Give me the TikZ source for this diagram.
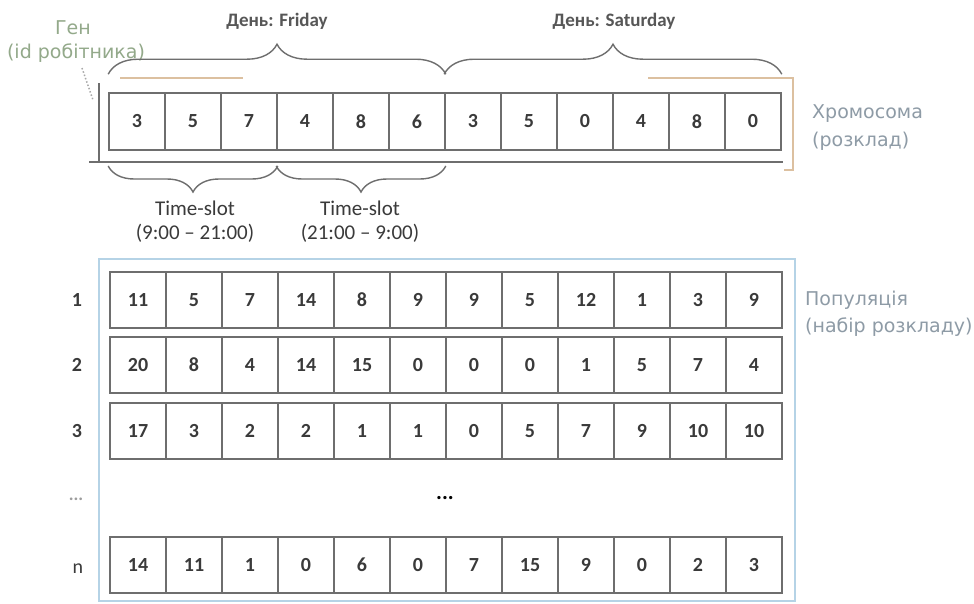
\documentclass[tikz,border=0pt]{standalone}
\usepackage{fontspec}
\setmainfont{Carlito}
\newfontfamily\labfont{DejaVu Sans}
\usetikzlibrary{decorations.pathreplacing,calc}
\definecolor{cellgray}{HTML}{6E6E6E}
\definecolor{numgray}{HTML}{3A3A3A}
\definecolor{boxblue}{HTML}{B5D3E6}
\definecolor{labelblue}{HTML}{8E9BA6}
\definecolor{gengreen}{HTML}{93A98A}
\definecolor{tanline}{HTML}{DCC0A0}
\tikzset{
  x=1pt,y=-1pt,
  cell/.style={draw=cellgray, line width=1.6pt, minimum width=56pt, minimum height=56pt,
    inner sep=0pt, font=\fontsize{20}{20}\selectfont\bfseries, text=numgray},
  bracebig/.style={decorate, decoration={brace, amplitude=30pt, aspect=0.5}, draw=cellgray, line width=1.4pt},
  bracesmall/.style={decorate, decoration={brace, amplitude=26pt}, draw=cellgray, line width=1.4pt},
  sidelab/.style={font=\labfont\fontsize{19}{19}\selectfont, text=labelblue, anchor=west, inner sep=0pt},
  headlab/.style={font=\fontsize{19}{19}\selectfont\bfseries, text=numgray!85!white},
  slotlab/.style={font=\fontsize{21}{21}\selectfont, text=numgray, align=center, inner sep=0pt},
  rowlab/.style={font=\fontsize{20}{20}\selectfont\bfseries, text=numgray},
}
\begin{document}
\begin{tikzpicture}
\useasboundingbox (0,0) rectangle (974,603);
\fill[white] (0,0) rectangle (974,603);

% chromosome
\foreach \v [count=\i] in {3,5,7,4,8,6,3,5,0,4,8,0}
  \node[cell, minimum height=57pt] (ch-\i) at ({109+56*(\i-0.5)},121.5) {\v};

% frame lines around chromosome
\draw[cellgray, line width=1.4pt] (99,83) -- (99,162);
\draw[cellgray, line width=1.4pt] (89,162) -- (783,162);
\draw[tanline, line width=1.4pt] (120,78) -- (243,78);
\draw[tanline, line width=1.4pt] (648,78) -- (793,78) -- (793,170) -- (784,170);

% gene label
\node[font=\labfont\fontsize{19}{19}\selectfont, text=gengreen] (gen) at (73,28) {Ген};
\node[font=\labfont\fontsize{19}{19}\selectfont, text=gengreen] (genid) at (76,53) {(id робітника)};
\coordinate (genstart) at (82,68);
\coordinate (genend) at (93,100);
\draw[cellgray!60, line width=1.5pt, dotted] (genstart) -- (genend);

% day braces
\draw[bracebig] ($(ch-1.north west)+(0,-18)$) -- ($(ch-6.north east)+(0,-18)$);
\draw[bracebig] ($(ch-7.north west)+(0,-18)$) -- ($(ch-12.north east)+(0,-18)$);
\node[headlab] (fri) at (277,21) {День: Friday};
\node[headlab] (sat) at (614,21) {День: Saturday};

% time-slot braces
\draw[bracesmall] (ch-3.south east |- 0,166) -- (ch-1.south west |- 0,166);
\draw[bracesmall] (ch-6.south east |- 0,166) -- (ch-4.south west |- 0,166);
\node[slotlab] (ts1) at (195,222) {Time-slot\\[3pt](9:00 – 21:00)};
\node[slotlab] (ts2) at (360,222) {Time-slot\\[3pt](21:00 – 9:00)};

% chromosome label
\node[sidelab] (chl1) at (812,114) {Хромосома};
\node[sidelab] (chl2) at (812,141) {(розклад)};

% population box
\draw[boxblue, line width=1.6pt] (99,259) rectangle (795,601);

\foreach \v [count=\i] in {11,5,7,14,8,9,9,5,12,1,3,9}
  \node[cell] (r1-\i) at ({110+56*(\i-0.5)},300) {\v};
\foreach \v [count=\i] in {20,8,4,14,15,0,0,0,1,5,7,4}
  \node[cell] (r2-\i) at ({110+56*(\i-0.5)},365) {\v};
\foreach \v [count=\i] in {17,3,2,2,1,1,0,5,7,9,10,10}
  \node[cell] (r3-\i) at ({110+56*(\i-0.5)},431) {\v};
\foreach \v [count=\i] in {14,11,1,0,6,0,7,15,9,0,2,3}
  \node[cell] (rn-\i) at ({110+56*(\i-0.5)},565) {\v};

\node[font=\fontsize{22}{22}\selectfont\bfseries, text=black] (mdots) at (445,498) {...};

\node[rowlab] (l1) at (77,300) {1};
\node[rowlab] (l2) at (77,365) {2};
\node[rowlab] (l3) at (77,431) {3};
\node[rowlab, text=numgray!50, font=\fontsize{18}{18}\selectfont\bfseries] (ld) at (76,499) {...};
\node[rowlab, font=\fontsize{20}{20}\selectfont] (ln) at (78,569) {n};

\node[sidelab] (pl1) at (805,300) {Популяція};
\node[sidelab] (pl2) at (805,327) {(набір розкладу)};
\end{tikzpicture}
\end{document}
